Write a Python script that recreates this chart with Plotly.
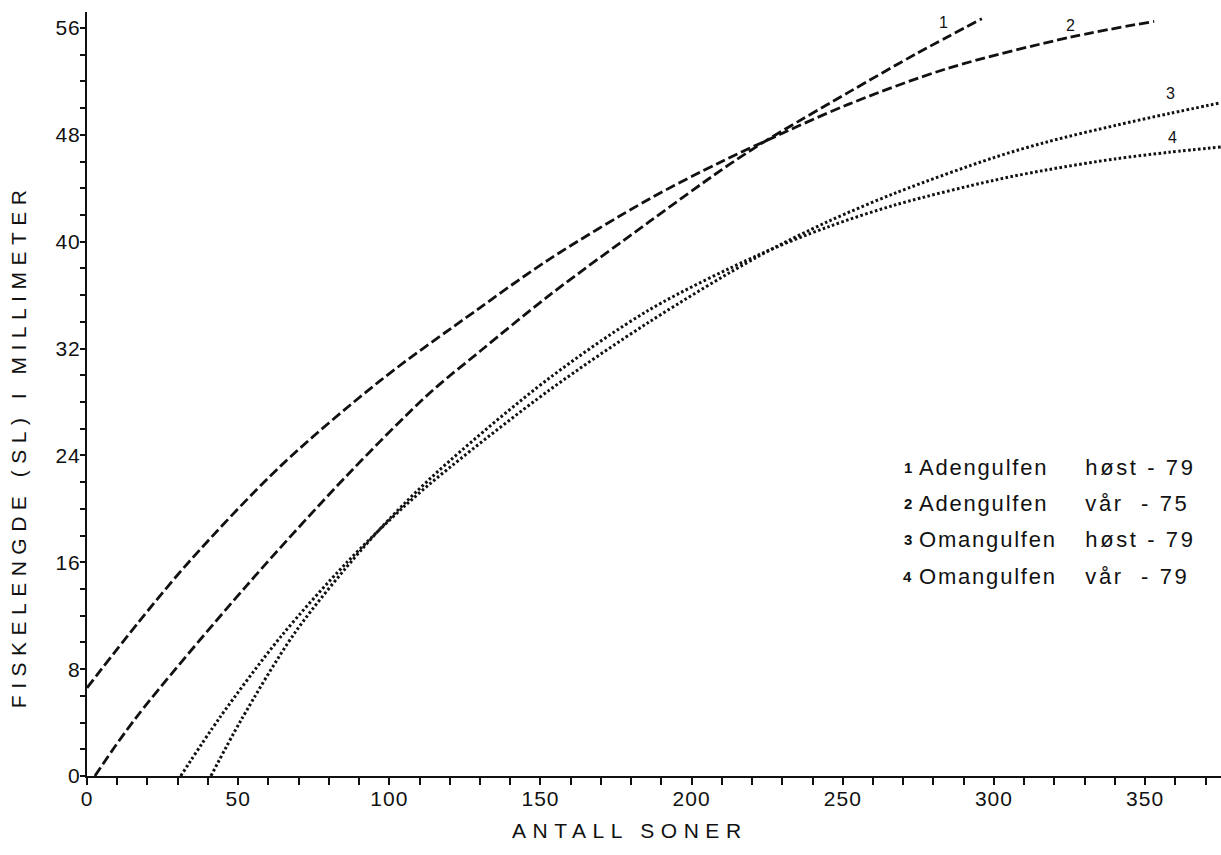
import plotly.graph_objects as go

# ---- data ----
x1 = [2.6, 16, 52.6, 86, 113, 130, 153, 186, 210, 222, 230, 252, 274.5, 296]
y1 = [0, 4.3, 14.2, 22.5, 28.6, 31.8, 36.0, 41.5, 45.4, 47.2, 48.3, 51.2, 54.1, 56.7]

x2 = [0, 17, 34, 64, 97, 129, 153, 186, 209, 225, 252, 285, 325, 353]
y2 = [6.6, 11.5, 16.1, 23.2, 29.6, 34.9, 38.7, 43.2, 45.9, 47.6, 50.3, 53.0, 55.3, 56.5]

x3 = [31, 44, 64, 86, 105, 120, 153, 186, 222, 245, 268, 300, 318, 340, 358, 375]
y3 = [0, 4.4, 10.4, 16.0, 20.2, 23.1, 28.9, 34.0, 38.9, 41.5, 43.7, 46.3, 47.5, 48.7, 49.6, 50.4]

x4 = [41, 51, 69, 91, 105, 120, 153, 186, 222, 245, 268, 300, 318, 340, 358, 375]
y4 = [0, 4.2, 10.8, 17.0, 20.4, 23.6, 29.8, 34.9, 39.0, 41.1, 42.8, 44.6, 45.4, 46.2, 46.7, 47.1]

curve_ids = ["1", "2", "3", "4"]
legend_places = ["Adengulfen", "Adengulfen", "Omangulfen", "Omangulfen"]
legend_seasons = ["høst - 79", "vår  - 75", "høst - 79", "vår  - 79"]

x_ticks = [0, 50, 100, 150, 200, 250, 300, 350]
y_ticks = [0, 8, 16, 24, 32, 40, 48, 56]

x_title = "ANTALL SONER"
y_title = "FISKELENGDE (SL) I MILLIMETER"

# ---- figure ----
FONT = "Liberation Sans, Arial, Helvetica, sans-serif"
INK = "#111111"

fig = go.Figure()
series = [(x1, y1, "10px,4px", 2.8), (x2, y2, "10px,4px", 2.8),
          (x3, y3, "2.6px,2.4px", 3.0), (x4, y4, "2.6px,2.4px", 3.0)]
for (xs, ys, dash, w), cid in zip(series, curve_ids):
    fig.add_trace(go.Scatter(
        x=xs, y=ys, mode="lines", name=cid,
        line=dict(color=INK, width=w, dash=dash, shape="spline", smoothing=0.9),
        hoverinfo="skip", showlegend=False))

# curve end labels
end_label_pos = [(283.2, 56.4), (325.2, 56.2), (358.3, 51.1), (358.9, 47.8)]
for cid, (lx, ly) in zip(curve_ids, end_label_pos):
    fig.add_annotation(x=lx, y=ly, text=cid, showarrow=False, xanchor="center",
                       yanchor="middle", font=dict(family=FONT, size=16, color=INK))

# legend text block
leg_y = [23.1, 20.4, 17.7, 14.9]
for cid, place, season, ly in zip(curve_ids, legend_places, legend_seasons, leg_y):
    fig.add_annotation(x=273.6, y=ly, text="<b>" + cid + "</b>", showarrow=False,
                       xanchor="right", yanchor="middle",
                       font=dict(family=FONT, size=15, color=INK))
    fig.add_annotation(x=277.4, y=ly, text=place, showarrow=False,
                       xanchor="left", yanchor="middle",
                       font=dict(family=FONT, size=22, color=INK))
    fig.add_annotation(x=333.5, y=ly, text=season.replace("  ", "\u00a0\u00a0"), showarrow=False,
                       xanchor="left", yanchor="middle",
                       font=dict(family=FONT, size=22, color=INK))

# axis titles as annotations
fig.add_annotation(xref="paper", yref="paper", x=0.479, y=-0.071, text=x_title,
                   showarrow=False, xanchor="center", yanchor="middle",
                   font=dict(family=FONT, size=21, color=INK))
fig.add_annotation(xref="paper", yref="paper", x=-0.06, y=0.432, text=y_title,
                   textangle=-90, showarrow=False, xanchor="center", yanchor="middle",
                   font=dict(family=FONT, size=21, color=INK))

fig.update_xaxes(
    range=[0, 375.1], tickmode="array", tickvals=x_ticks,
    ticktext=[str(v) for v in x_ticks],
    showgrid=False, zeroline=False, showline=True, linecolor=INK, linewidth=2,
    ticks="outside", ticklen=7, tickwidth=1.5, tickcolor=INK, ticklabelstandoff=-4,
    minor=dict(dtick=10, tick0=0, ticks="outside", ticklen=7, tickwidth=1.5, tickcolor=INK, showgrid=False),
    tickfont=dict(family=FONT, size=21, color=INK))
fig.update_yaxes(
    range=[0, 57.2], tickmode="array", tickvals=y_ticks,
    ticktext=[str(v) for v in y_ticks],
    showgrid=False, zeroline=False, showline=True, linecolor=INK, linewidth=2,
    ticks="outside", ticklen=5, tickwidth=1.5, tickcolor=INK, ticklabelstandoff=-5,
    minor=dict(dtick=2, tick0=0, ticks="outside", ticklen=5, tickwidth=1.5, tickcolor=INK, showgrid=False),
    tickfont=dict(family=FONT, size=21, color=INK))

fig.update_layout(
    width=1221, height=855,
    margin=dict(l=87, r=0, t=12, b=79),
    paper_bgcolor="white", plot_bgcolor="white",
    showlegend=False)

post = """
document.body.style.margin = '0';
document.body.style.overflow = 'hidden';
var gd = document.getElementsByClassName('plotly-graph-div')[0];
function spacing(){
  document.querySelectorAll('.annotation-text').forEach(function(e){
    var t = e.textContent;
    if (t.indexOf('ANTALL') === 0 || t.indexOf('FISKE') === 0) { e.style.letterSpacing = '6.5px'; }
    else if (t.indexOf('h') === 0 || t.indexOf('v') === 0) { e.style.letterSpacing = '2.6px'; }
    else if (t.length > 2) { e.style.letterSpacing = '1.8px'; }
  });
  document.querySelectorAll('.xtick text, .ytick text').forEach(function(e){ e.style.letterSpacing = '1px'; });
}
spacing();
if (gd && gd.on) { gd.on('plotly_afterplot', spacing); }
"""

fig.write_html("out.html", post_script=post, config={"displayModeBar": False})
